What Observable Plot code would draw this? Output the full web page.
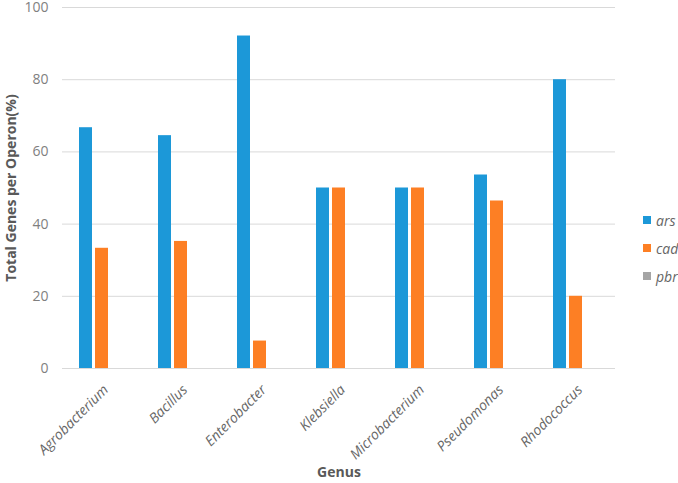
<!DOCTYPE html>
<html>
<head>
<meta charset="utf-8">
<script src="https://cdn.jsdelivr.net/npm/d3@7"></script>
<script src="https://cdn.jsdelivr.net/npm/@observablehq/plot@0.6"></script>
<style>
  html, body { margin: 0; padding: 0; background: #fff; }
  #wrap { position: relative; width: 678px; height: 483px; font-family: "Open Sans", sans-serif; }
  #legend { position: absolute; left: 643px; top: 206px; }
  .item { display: flex; align-items: center; height: 28px; font-style: italic; font-size: 14px; color: #666; }
  .sw { width: 8px; height: 8px; margin-right: 5px; }
</style>
</head>
<body>
<div id="wrap"></div>
<script>
const genera = ["Agrobacterium", "Bacillus", "Enterobacter", "Klebsiella", "Microbacterium", "Pseudomonas", "Rhodococcus"];
const series = ["ars", "cad", "pbr"];
const ars = [66.7, 64.5, 92.1, 50, 50, 53.6, 80];
const cad = [33.3, 35.2, 7.6, 50, 50, 46.4, 20];
const pbr = [0, 0, 0, 0, 0, 0, 0];
const colors = ["#1c98d8", "#fd7f24", "#a5a5a5"];
const yTicks = [0, 20, 40, 60, 80, 100];

const values = {ars, cad, pbr};
const data = [];
genera.forEach((g, i) => series.forEach(s => data.push({genus: g, series: s, value: values[s][i]})));

const chart = Plot.plot({
  width: 678,
  height: 483,
  marginLeft: 60,
  marginRight: 62,
  marginTop: 7,
  marginBottom: 115,
  style: {fontFamily: "'Open Sans', sans-serif", background: "white", overflow: "visible"},
  fx: {domain: genera, padding: 0, axis: null},
  x: {domain: series, paddingInner: 0.2, paddingOuter: 1, axis: null},
  y: {domain: [0, 100]},
  color: {domain: series, range: colors},
  marks: [
    Plot.ruleY(yTicks, {stroke: "#d9d9d9", strokeWidth: 1}),
    Plot.barY(data, {fx: "genus", x: "series", y: "value", fill: "series"}),
    Plot.axisY(yTicks, {
      tickSize: 0, tickPadding: 14, fontSize: 14, color: "#7f7f7f",
      label: "Total Genes per Operon(%)", labelAnchor: "center", labelArrow: "none", labelOffset: 56
    }),
    Plot.axisFx({
      anchor: "bottom",
      tickSize: 0, tickPadding: 19, dx: 4, tickRotate: -45, fontSize: 14, color: "#666",
      label: "Genus", labelAnchor: "center", labelArrow: "none", labelOffset: 108
    })
  ]
});

document.getElementById("wrap").appendChild(chart);

// style axis labels
chart.querySelectorAll('[aria-label="y-axis label"] text, [aria-label="fx-axis label"] text').forEach(t => {
  t.setAttribute("font-weight", "bold");
  t.setAttribute("font-size", "14");
  t.setAttribute("fill", "#595959");
  t.setAttribute("font-style", "normal");
});
chart.querySelectorAll('[aria-label="fx-axis tick label"] text').forEach(t => {
  t.setAttribute("font-style", "italic");
});

// legend
const legend = document.createElement("div");
legend.id = "legend";
series.forEach((s, i) => {
  const item = document.createElement("div");
  item.className = "item";
  const sw = document.createElement("span");
  sw.className = "sw";
  sw.style.background = colors[i];
  const tx = document.createElement("span");
  tx.textContent = s;
  item.appendChild(sw);
  item.appendChild(tx);
  legend.appendChild(item);
});
document.getElementById("wrap").appendChild(legend);
</script>
</body>
</html>
